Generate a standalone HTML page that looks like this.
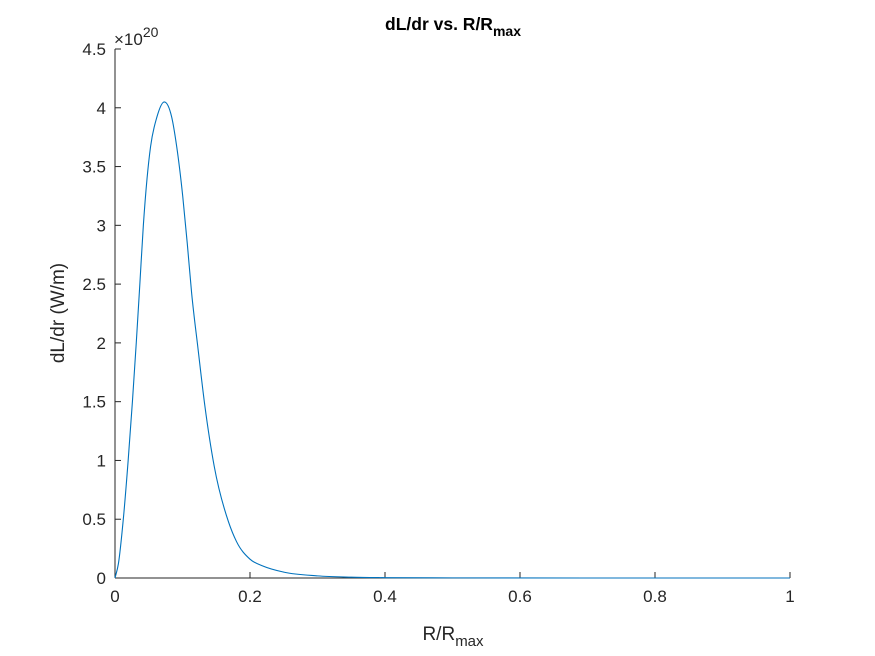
<!DOCTYPE html>
<html><head><meta charset="utf-8"><style>
html,body{margin:0;padding:0;background:#fff;}
svg{display:block;font-family:"Liberation Sans",Arial,sans-serif;}
</style></head><body>
<svg id="chart" width="875" height="656" viewBox="0 0 875 656">
<rect width="875" height="656" fill="#fff"/>
<g id="axes"></g>
<path id="line" fill="none" stroke="#0072BD" stroke-width="1.1"/>
<text x="453" y="30" text-anchor="middle" font-size="17.5" font-weight="bold" fill="#000">dL/dr vs. R/R<tspan font-size="14" dy="6">max</tspan></text>
<text x="453" y="640" text-anchor="middle" font-size="19" fill="#262626">R/R<tspan font-size="15" dy="6">max</tspan></text>
<text transform="translate(64,313) rotate(-90)" text-anchor="middle" font-size="19" fill="#262626">dL/dr (W/m)</text>
<text x="114" y="45" font-size="17" fill="#262626">×10<tspan font-size="14" dy="-8">20</tspan></text>
</svg>
<script>
const xData=[0,0.005,0.0123,0.0195,0.0258,0.0315,0.0368,0.042,0.0475,0.0527,0.062,0.073,0.084,0.0914,0.1003,0.107,0.1136,0.123,0.133,0.147,0.168,0.18,0.2,0.22,0.25,0.3,0.35,0.4,0.5,0.7,1];
const yData=[0,0.12,0.5,1.0,1.5,2.0,2.5,3.0,3.4,3.67,3.92,4.05,3.92,3.67,3.25,2.85,2.42,1.95,1.47,0.95,0.48,0.31,0.16,0.1,0.05,0.018,0.007,0.003,0.001,0,0];
const xTicks=[0,0.2,0.4,0.6,0.8,1];
const xTickLabels=["0","0.2","0.4","0.6","0.8","1"];
const yTicks=[0,0.5,1,1.5,2,2.5,3,3.5,4,4.5];
const yTickLabels=["0","0.5","1","1.5","2","2.5","3","3.5","4","4.5"];

const L=115,R=790,T=49,B=578;
const xs=v=>L+(v-0)/(1-0)*(R-L);
const ys=v=>B-(v-0)/(4.5-0)*(B-T);
const NS="http://www.w3.org/2000/svg";
const ax=document.getElementById('axes');
function mk(tag,attrs){const e=document.createElementNS(NS,tag);for(const k in attrs)e.setAttribute(k,attrs[k]);return e;}
const xl=mk('line',{x1:L,y1:B,x2:R,y2:B,stroke:'#262626','stroke-width':1});


ax.appendChild(xl);
const yl=mk('line',{x1:L,y1:B,x2:L,y2:T,stroke:'#262626','stroke-width':1});


ax.appendChild(yl);
xTicks.forEach((t,i)=>{
  const x=xs(t);
  const tk=mk('line',{x1:x,y1:B,x2:x,y2:B-6,stroke:'#262626','stroke-width':1});
  
  
  ax.appendChild(tk);
  const tx=mk('text',{x:x,y:B+24,'text-anchor':'middle','font-size':17,fill:'#262626'});
  tx.textContent=xTickLabels[i];
  
  
  ax.appendChild(tx);
});
yTicks.forEach((t,i)=>{
  const y=ys(t);
  const tk=mk('line',{x1:L,y1:y,x2:L+6,y2:y,stroke:'#262626','stroke-width':1});
  
  
  ax.appendChild(tk);
  const tx=mk('text',{x:L-9,y:y+6,'text-anchor':'end','font-size':17,fill:'#262626'});
  tx.textContent=yTickLabels[i];
  
  
  ax.appendChild(tx);
});
const P=xData.map((v,i)=>[xs(v),ys(yData[i])]);
const n=P.length,m=[];
const d=[];for(let i=0;i<n-1;i++)d.push((P[i+1][1]-P[i][1])/(P[i+1][0]-P[i][0]));
for(let i=0;i<n;i++){
  if(i===0)m.push(d[0]);else if(i===n-1)m.push(d[n-2]);
  else{
    const h0=P[i][0]-P[i-1][0],h1=P[i+1][0]-P[i][0];
    m.push(d[i-1]*d[i]<=0?0:(d[i-1]*h1+d[i]*h0)/(h0+h1));
  }
}
let s='M'+P[0][0]+','+P[0][1];
for(let i=0;i<n-1;i++){
  const h=P[i+1][0]-P[i][0];
  s+=' C'+(P[i][0]+h/3)+','+(P[i][1]+m[i]*h/3)+' '+(P[i+1][0]-h/3)+','+(P[i+1][1]-m[i+1]*h/3)+' '+P[i+1][0]+','+P[i+1][1];
}
document.getElementById('line').setAttribute('d',s);
</script>
</body></html>
